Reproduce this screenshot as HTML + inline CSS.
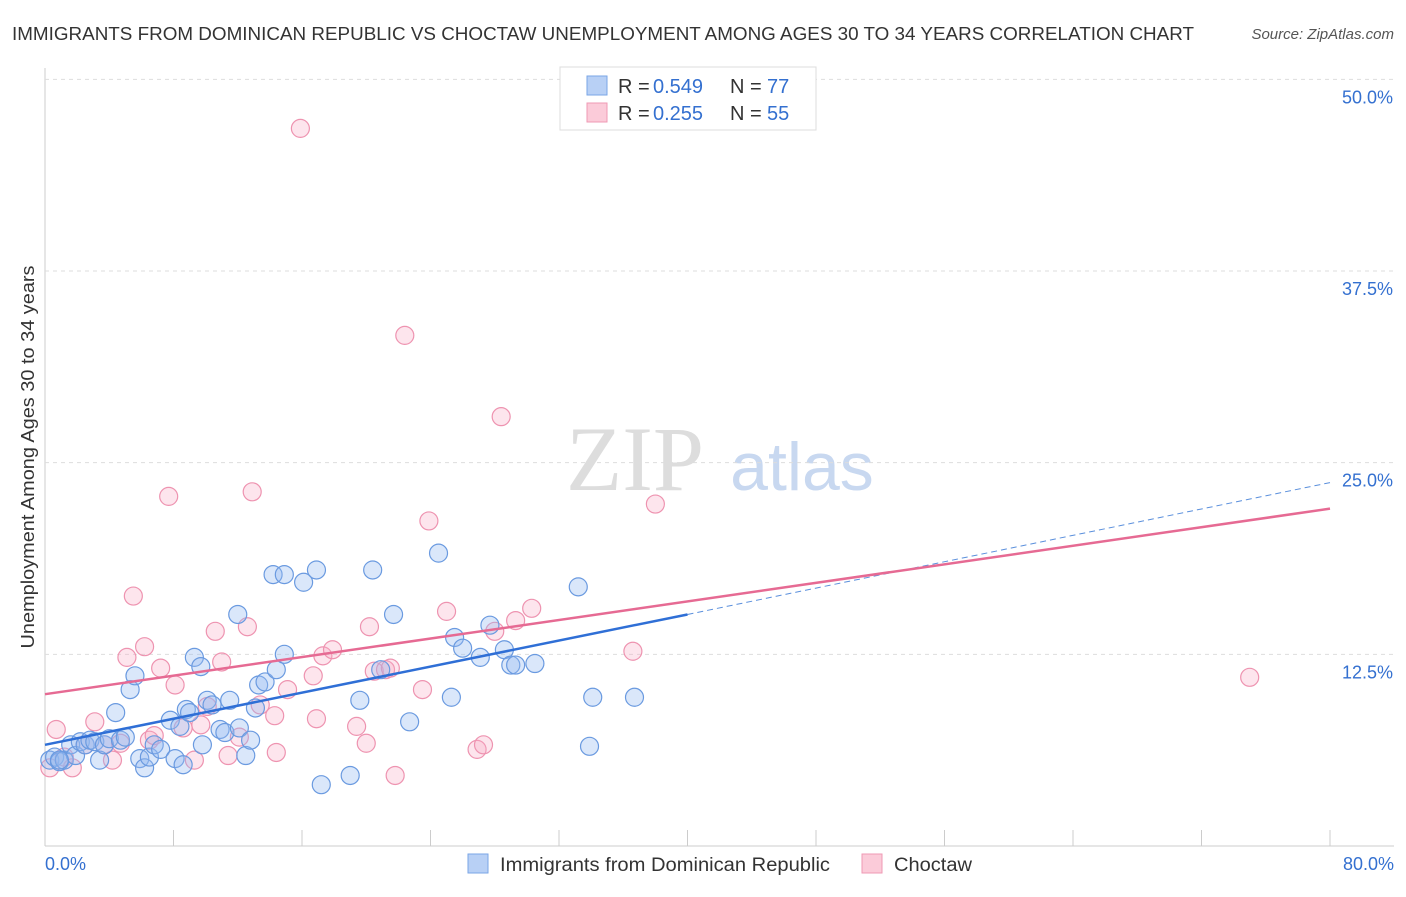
<!DOCTYPE html>
<html><head><meta charset="utf-8"><style>
body{margin:0;background:#fff;font-family:"Liberation Sans",sans-serif}
svg text{font-family:"Liberation Sans",sans-serif}
</style></head><body>
<svg id="c" width="1406" height="892">
<text x="12" y="40" font-size="18" fill="#333" textLength="1182" lengthAdjust="spacingAndGlyphs">IMMIGRANTS FROM DOMINICAN REPUBLIC VS CHOCTAW UNEMPLOYMENT AMONG AGES 30 TO 34 YEARS CORRELATION CHART</text>
<text x="1394" y="39" font-size="15" fill="#555" font-style="italic" text-anchor="end">Source: ZipAtlas.com</text>
<text x="635" y="490" font-size="92" fill="#ddd" text-anchor="middle" style="font-family:'Liberation Serif',serif">ZIP</text>
<text x="802" y="490" font-size="68" fill="#c8d8f0" text-anchor="middle">atlas</text>
<text transform="translate(34,457) rotate(-90)" font-size="18" fill="#333" text-anchor="middle" textLength="383" lengthAdjust="spacingAndGlyphs">Unemployment Among Ages 30 to 34 years</text>
<g id="grid"></g><g id="pts"></g><g id="lines"></g>
<g>
<rect x="560" y="67" width="256" height="63" fill="#fff" stroke="#ddd"/>
<rect x="587" y="76" width="20" height="19" fill="#b8d0f5" stroke="#7aa6e6"/>
<rect x="587" y="103" width="20" height="19" fill="#fbcbd9" stroke="#ef9ab4"/>
<text x="618" y="93" font-size="20" fill="#333">R = </text><text x="653" y="93" font-size="20" fill="#3470d0">0.549</text>
<text x="730" y="93" font-size="20" fill="#333">N = </text><text x="767" y="93" font-size="20" fill="#3470d0">77</text>
<text x="618" y="120" font-size="20" fill="#333">R = </text><text x="653" y="120" font-size="20" fill="#3470d0">0.255</text>
<text x="730" y="120" font-size="20" fill="#333">N = </text><text x="767" y="120" font-size="20" fill="#3470d0">55</text>
</g>
<g>
<rect x="468" y="854" width="20" height="19" fill="#b8d0f5" stroke="#7aa6e6"/>
<text x="500" y="871" font-size="19" fill="#333" textLength="330" lengthAdjust="spacingAndGlyphs">Immigrants from Dominican Republic</text>
<rect x="862" y="854" width="20" height="19" fill="#fbcbd9" stroke="#ef9ab4"/>
<text x="894" y="871" font-size="19" fill="#333" textLength="78" lengthAdjust="spacingAndGlyphs">Choctaw</text>
</g>
</svg>
<script>
const blueX=[0.3,0.6,0.9,1.2,1.6,1.9,2.2,2.5,2.8,3.1,3.4,3.7,4.0,4.4,4.7,5.0,5.3,5.6,5.9,6.2,6.5,6.8,7.2,7.8,8.1,8.4,8.6,8.8,9.0,9.3,9.7,9.8,10.1,10.4,10.9,11.2,11.5,12.0,12.1,12.5,12.8,13.1,13.3,13.7,14.2,14.4,14.9,14.9,16.1,16.9,17.2,19.0,19.6,20.4,20.9,21.7,22.7,24.5,25.3,25.5,26.0,27.1,27.7,28.6,29.0,29.3,30.5,33.2,33.9,34.1,36.7,0.9];
const blueY=[5.6,5.8,5.5,5.6,6.6,5.9,6.8,6.6,6.9,6.8,5.6,6.6,7.0,8.7,6.9,7.1,10.2,11.1,5.7,5.1,5.8,6.6,6.3,8.2,5.7,7.8,5.3,8.9,8.7,12.3,11.7,6.6,9.5,9.2,7.6,7.4,9.5,15.1,7.7,5.9,6.9,9.0,10.5,10.7,17.7,11.5,17.7,12.5,17.2,18.0,4.0,4.6,9.5,18.0,11.5,15.1,8.1,19.1,9.7,13.6,12.9,12.3,14.4,12.8,11.8,11.8,11.9,16.9,6.5,9.7,9.7,5.6];
const pinkX=[0.3,0.7,1.2,1.7,2.5,3.1,3.7,4.2,4.7,5.1,5.5,6.2,6.5,6.8,7.2,7.7,8.1,8.6,9.3,9.7,10.1,10.6,11.0,11.4,12.1,12.6,12.9,13.4,14.3,14.4,15.1,15.9,16.7,16.9,17.3,17.9,19.4,20.0,20.2,20.5,21.2,21.5,21.8,22.4,23.5,23.9,25.0,26.9,27.3,28.0,28.4,29.3,30.3,36.6,38.0,75.0];
const pinkY=[5.1,7.6,5.8,5.1,6.6,8.1,6.6,5.6,6.7,12.3,16.3,13.0,6.9,7.2,11.6,22.8,10.5,7.7,5.6,7.9,9.1,14.0,12.0,5.9,7.1,14.3,23.1,9.2,8.5,6.1,10.2,46.8,11.1,8.3,12.4,12.8,7.8,6.7,14.3,11.4,11.5,11.6,4.6,33.3,10.2,21.2,15.3,6.3,6.6,14.0,28.0,14.7,15.5,12.7,22.3,11.0];
const yTicks=[12.5,25.0,37.5,50.0];
const xTickVals=[0,8,16,24,32,40,48,56,64,72,80];
const blueTrend=[[0,6.6],[40,15.1],[80,23.7]];
const pinkTrend=[[0,9.9],[80,22.0]];
const sx=v=>45+v/80*1285, sy=v=>846-v/12.5*191.67;
const NS='http://www.w3.org/2000/svg';
function mk(t,a,p){const e=document.createElementNS(NS,t);for(const k in a)e.setAttribute(k,a[k]);p.appendChild(e);return e;}
const g=document.getElementById('grid');
let ax=mk('line',{x1:45,y1:68,x2:45,y2:846,stroke:'#ccc'},g);


let bx=mk('line',{x1:45,y1:846,x2:1394,y2:846,stroke:'#ccc'},g);


yTicks.forEach(v=>{const l=mk('line',{x1:45,y1:sy(v),x2:1394,y2:sy(v),stroke:'#ddd','stroke-dasharray':'4,4'},g);


const t=mk('text',{x:1393,y:sy(v)+24,'font-size':18,fill:'#3470d0','text-anchor':'end'},g);t.textContent=v.toFixed(1)+'%';

});
xTickVals.forEach(v=>{const l=mk('line',{x1:sx(v),y1:830,x2:sx(v),y2:846,stroke:'#ccc'},g);

});
[[0,'0.0%','start',45],[80,'80.0%','end',1394]].forEach(([v,s,a,x])=>{const t=mk('text',{x:x,y:870,'font-size':18,fill:'#3470d0','text-anchor':a},g);t.textContent=s;

});
const p=document.getElementById('pts');
pinkX.forEach((x,i)=>{const c=mk('circle',{cx:sx(x),cy:sy(pinkY[i]),r:9,fill:'rgba(248,170,195,0.3)',stroke:'#ee93b0','stroke-width':1.2},p);

});
blueX.forEach((x,i)=>{const c=mk('circle',{cx:sx(x),cy:sy(blueY[i]),r:9,fill:'rgba(150,185,240,0.35)',stroke:'#6a9ae0','stroke-width':1.2},p);

});
const L=document.getElementById('lines');
let b1=mk('line',{x1:sx(blueTrend[0][0]),y1:sy(blueTrend[0][1]),x2:sx(blueTrend[1][0]),y2:sy(blueTrend[1][1]),stroke:'#2f6fd6','stroke-width':2.5},L);


let b2=mk('line',{x1:sx(blueTrend[1][0]),y1:sy(blueTrend[1][1]),x2:sx(blueTrend[2][0]),y2:sy(blueTrend[2][1]),stroke:'#5a8fdc','stroke-width':1,'stroke-dasharray':'6,4'},L);


let p1=mk('line',{x1:sx(pinkTrend[0][0]),y1:sy(pinkTrend[0][1]),x2:sx(pinkTrend[1][0]),y2:sy(pinkTrend[1][1]),stroke:'#e66a93','stroke-width':2.5},L);


</script>
</body></html>
